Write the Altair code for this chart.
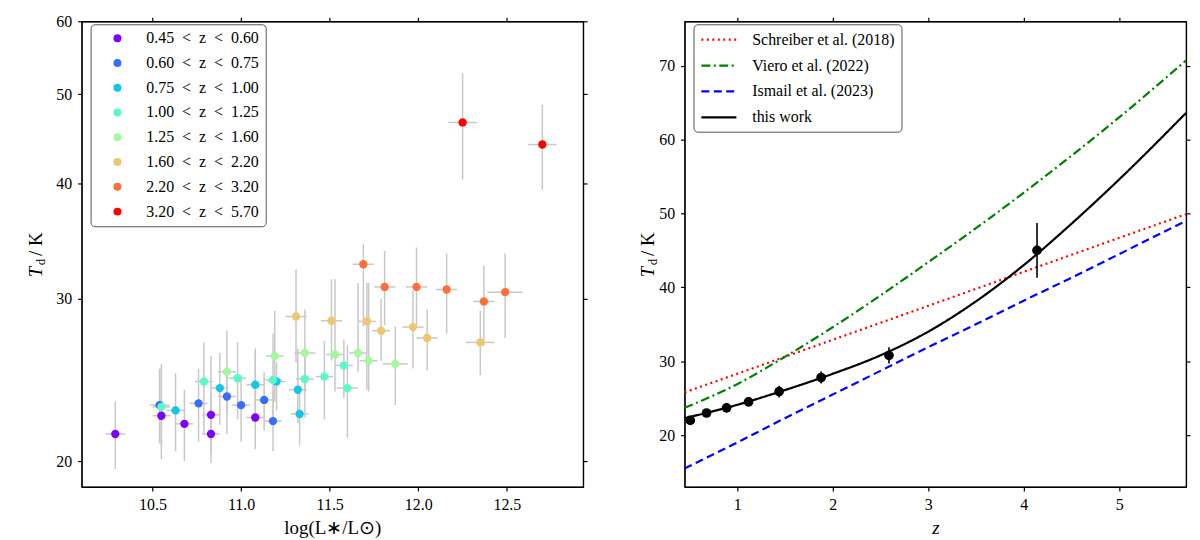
import altair as alt
import pandas as pd

FONT = "Liberation Serif"
W, H = 504, 468

# ---- left panel: dust temperature vs luminosity, 8 redshift bins
bin_labels = [
    "0.45\u2002<\u2002z\u2002<\u20020.60", "0.60\u2002<\u2002z\u2002<\u20020.75",
    "0.75\u2002<\u2002z\u2002<\u20021.00", "1.00\u2002<\u2002z\u2002<\u20021.25",
    "1.25\u2002<\u2002z\u2002<\u20021.60", "1.60\u2002<\u2002z\u2002<\u20022.20",
    "2.20\u2002<\u2002z\u2002<\u20023.20", "3.20\u2002<\u2002z\u2002<\u20025.70",
]
bin_colors = ["#8000ff", "#376ff9", "#12c7e6", "#5bf9c7",
              "#a4f99f", "#edc76f", "#ff6f39", "#ff0000"]

bin_idx = [0] * 6 + [1] * 6 + [2] * 6 + [3] * 8 + [4] * 7 + [5] * 7 + [6] * 6 + [7] * 2
lum = [10.29, 10.55, 10.68, 10.83, 10.83, 11.08,
       10.54, 10.76, 10.92, 11.00, 11.13, 11.18,
       10.63, 10.88, 11.08, 11.20, 11.32, 11.33,
       10.55, 10.79, 10.98, 11.18, 11.36, 11.47, 11.58, 11.60,
       10.92, 11.19, 11.36, 11.53, 11.66, 11.72, 11.87,
       11.31, 11.51, 11.71, 11.79, 11.97, 12.05, 12.35,
       11.69, 11.81, 11.99, 12.16, 12.37, 12.49,
       12.25, 12.70]
lum_err = [0.055, 0.05, 0.05, 0.05, 0.05, 0.05,
           0.055, 0.05, 0.05, 0.05, 0.05, 0.05,
           0.05, 0.05, 0.05, 0.05, 0.05, 0.05,
           0.05, 0.05, 0.05, 0.05, 0.05, 0.05, 0.05, 0.06,
           0.05, 0.05, 0.06, 0.05, 0.05, 0.05, 0.07,
           0.06, 0.06, 0.05, 0.05, 0.06, 0.06, 0.08,
           0.06, 0.06, 0.06, 0.06, 0.06, 0.10,
           0.08, 0.08]
td = [21.4, 22.4, 21.95, 22.45, 21.4, 22.3,
      23.0, 23.1, 23.5, 23.0, 23.3, 22.1,
      22.7, 24.0, 24.2, 24.4, 23.9, 22.5,
      22.9, 24.4, 24.6, 24.5, 24.55, 24.7, 25.4, 24.0,
      25.0, 26.0, 26.2, 26.1, 26.2, 25.7, 25.5,
      28.7, 28.4, 28.35, 27.7, 27.95, 27.2, 26.9,
      32.7, 30.9, 30.9, 30.7, 29.8, 30.5,
      46.6, 44.1]
td_lo = [19.6, 20.1, 20.0, 20.4, 19.9, 20.6,
         20.9, 21.0, 21.4, 21.0, 21.6, 20.5,
         20.5, 21.9, 22.0, 22.7, 22.0, 20.8,
         20.8, 21.4, 22.2, 22.2, 22.3, 22.2, 23.4, 21.2,
         22.5, 23.2, 23.8, 23.8, 25.0, 23.8, 23.0,
         25.6, 25.7, 23.9, 25.7, 25.2, 25.1, 24.8,
         28.0, 28.1, 28.0, 27.5, 26.7, 27.2,
         40.4, 39.4]
td_hi = [23.2, 25.2, 23.9, 26.0, 23.7, 26.2,
         25.2, 25.2, 25.2, 24.8, 25.0, 23.8,
         24.9, 26.2, 26.5, 25.6, 26.5, 23.8,
         25.5, 26.9, 26.9, 27.5, 26.2, 27.0, 27.1, 26.7,
         27.7, 29.1, 29.2, 31.5, 31.2, 31.2, 28.0,
         32.3, 31.5, 31.2, 30.0, 30.6, 29.2, 29.1,
         34.4, 33.8, 34.1, 33.6, 32.6, 33.6,
         52.7, 48.7]

# ---- right panel: Td(z) relations and stacked points
z_model = [0.45, 1.0, 1.5, 2.0, 2.5, 3.0, 3.5, 4.0, 4.5, 5.0, 5.7]
schreiber = [25.8, 28.3, 30.6, 32.9, 35.2, 37.5, 39.8, 42.1, 44.4, 46.7, 49.9]
viero = [23.7, 26.9, 30.6, 34.6, 38.9, 43.4, 48.0, 52.8, 57.8, 63.0, 70.7]
ismail = [15.5, 19.0, 22.3, 25.5, 28.7, 31.9, 35.0, 38.2, 41.3, 44.5, 49.0]
this_work = [22.3, 24.1, 26.1, 28.3, 30.8, 34.0, 38.1, 43.0, 48.6, 54.6, 63.6]
model_names = ["Schreiber et al. (2018)", "Viero et al. (2022)",
               "Ismail et al. (2023)", "this work"]
model_colors = ["#ff0000", "#007f00", "#0000ff", "#000000"]
model_dashes = [[2, 3.5], [9, 3.5, 2, 3.5], [8, 4.5], [1, 0]]

z_pts = [0.51, 0.68, 0.89, 1.12, 1.44, 1.88, 2.59, 4.14]
t_pts = [22.0, 23.0, 23.7, 24.5, 25.9, 27.8, 30.8, 45.0]
t_err = [0.5, 0.5, 0.6, 0.6, 0.8, 0.8, 1.1, 3.7]

left_df = pd.DataFrame({
    "lum": lum, "td": td, "td_lo": td_lo, "td_hi": td_hi,
    "bin": [bin_labels[i] for i in bin_idx],
})
left_df["lum_lo"] = left_df["lum"] - pd.Series(lum_err)
left_df["lum_hi"] = left_df["lum"] + pd.Series(lum_err)

models_df = pd.concat([
    pd.DataFrame({"z": z_model, "T": vals, "model": name})
    for name, vals in zip(model_names, [schreiber, viero, ismail, this_work])
])
pts_df = pd.DataFrame({"z": z_pts, "T": t_pts})
pts_df["lo"] = pts_df["T"] - pd.Series(t_err)
pts_df["hi"] = pts_df["T"] + pd.Series(t_err)


def ytitle(xpos):
    # T_d / K built from three pieces, rotated
    mid = H / 2
    parts = [("T", 19, "italic", xpos, mid + 18),
             ("d", 13, "normal", xpos + 5, mid + 8),
             ("/ K", 19, "normal", xpos, mid - 10)]
    layers = []
    for s, size, style, xp, yp in parts:
        layers.append(
            alt.Chart(pd.DataFrame({"s": [s]})).mark_text(
                font=FONT, fontSize=size, fontStyle=style, angle=270,
                align="center", baseline="middle", color="black"
            ).encode(text="s:N", x=alt.value(xp), y=alt.value(yp))
        )
    return layers


# left panel
lx_scale = alt.Scale(domain=[10.1, 12.93], nice=False, zero=False)
ly_scale = alt.Scale(type="log", domain=[18.75, 60], nice=False)
lx_ticks = [10.5, 11.0, 11.5, 12.0, 12.5]
ly_ticks = [20, 30, 40, 50, 60]

err_v = alt.Chart(left_df).mark_rule(color="#c8c8c8", strokeWidth=1.5).encode(
    x=alt.X("lum:Q", scale=lx_scale, axis=None),
    y=alt.Y("td_lo:Q", scale=ly_scale, axis=None),
    y2="td_hi:Q",
)
err_h = alt.Chart(left_df).mark_rule(color="#c8c8c8", strokeWidth=1.5).encode(
    x=alt.X("lum_lo:Q", scale=lx_scale, axis=None),
    x2="lum_hi:Q",
    y=alt.Y("td:Q", scale=ly_scale, axis=None),
)
left_pts = alt.Chart(left_df).mark_circle(size=70, opacity=1).encode(
    x=alt.X("lum:Q", scale=lx_scale,
            axis=alt.Axis(values=lx_ticks, format=".1f", title="log(L\u2217/L\u2299)")),
    y=alt.Y("td:Q", scale=ly_scale,
            axis=alt.Axis(values=ly_ticks, format="d", title="")),
    color=alt.Color("bin:N", scale=alt.Scale(domain=bin_labels, range=bin_colors),
                    legend=alt.Legend(orient="none", legendX=9, legendY=3, title=None,
                                      symbolType="circle", symbolSize=64,
                                      symbolOffset=13, labelOffset=21,
                                      labelFontSize=16, labelFont=FONT,
                                      rowPadding=8.9, padding=6,
                                      strokeColor="#555555", cornerRadius=4,
                                      fillColor="white")),
)
left_frame = alt.Chart(left_df).mark_point(opacity=0).encode(
    x=alt.X("lum:Q", scale=lx_scale,
            axis=alt.Axis(orient="top", values=lx_ticks, labels=False, title="")),
    y=alt.Y("td:Q", scale=ly_scale,
            axis=alt.Axis(orient="right", values=ly_ticks, labels=False, title="")),
)
left = alt.layer(err_v, err_h, left_pts, left_frame, *ytitle(-46)).resolve_axis(
    x="independent", y="independent"
).properties(width=W, height=H)

# right panel
rx_scale = alt.Scale(domain=[0.45, 5.7], nice=False, zero=False)
ry_scale = alt.Scale(domain=[13, 76], nice=False, zero=False)
rx_ticks = [1, 2, 3, 4, 5]
ry_ticks = [20, 30, 40, 50, 60, 70]

# short symbol box (16 px) with a long custom line path so rows stay compact
model_legend = alt.Legend(orient="none", legendX=9, legendY=3, title=None,
                          symbolType="M-2.2,0H2.2", symbolSize=256, symbolStrokeWidth=2.2,
                          symbolOffset=10, labelOffset=24,
                          labelFontSize=16, labelFont=FONT, rowPadding=8, padding=6,
                          strokeColor="#555555", cornerRadius=4, fillColor="white")
lines = alt.Chart(models_df).mark_line(interpolate="monotone", strokeWidth=2.2).encode(
    x=alt.X("z:Q", scale=rx_scale,
            axis=alt.Axis(values=rx_ticks, format="d", title="z", titleFontStyle="italic")),
    y=alt.Y("T:Q", scale=ry_scale, axis=alt.Axis(values=ry_ticks, format="d", title="")),
    color=alt.Color("model:N", scale=alt.Scale(domain=model_names, range=model_colors),
                    legend=model_legend),
    strokeDash=alt.StrokeDash("model:N",
                              scale=alt.Scale(domain=model_names, range=model_dashes),
                              legend=model_legend),
)
pt_err = alt.Chart(pts_df).mark_rule(color="black", strokeWidth=1.6).encode(
    x=alt.X("z:Q", scale=rx_scale, axis=None),
    y=alt.Y("lo:Q", scale=ry_scale, axis=None),
    y2="hi:Q",
)
pts = alt.Chart(pts_df).mark_circle(size=95, color="black", opacity=1).encode(
    x=alt.X("z:Q", scale=rx_scale, axis=None),
    y=alt.Y("T:Q", scale=ry_scale, axis=None),
)
right_frame = alt.Chart(pts_df).mark_point(opacity=0).encode(
    x=alt.X("z:Q", scale=rx_scale,
            axis=alt.Axis(orient="top", values=rx_ticks, labels=False, title="")),
    y=alt.Y("T:Q", scale=ry_scale,
            axis=alt.Axis(orient="right", values=ry_ticks, labels=False, title="")),
)
right = alt.layer(lines, pt_err, pts, right_frame, *ytitle(-37)).resolve_axis(
    x="independent", y="independent"
).properties(width=W, height=H)

chart = alt.hconcat(left, right, spacing=49).resolve_scale(
    x="independent", y="independent", color="independent", strokeDash="independent"
).properties(
    padding={"left": 18, "top": 3, "right": 0, "bottom": 0}
).configure_view(
    stroke="black", strokeWidth=1.2
).configure_axis(
    labelFont=FONT, labelFontSize=16, labelColor="black", labelPadding=6,
    labelFlush=False, labelOverlap=False,
    titleFont=FONT, titleFontSize=19, titleColor="black", titleFontWeight="normal",
    titlePadding=6,
    tickColor="black", tickSize=4, tickWidth=1.2,
    domainColor="black", domainWidth=1.2, grid=False,
)

chart.save("out.html", embed_options={"renderer": "svg", "actions": False})
